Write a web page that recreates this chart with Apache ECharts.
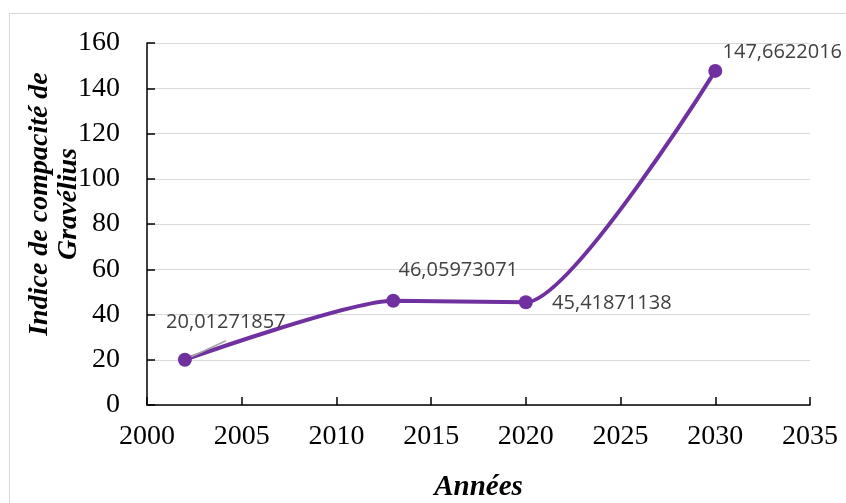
<!DOCTYPE html>
<html>
<head>
<meta charset="utf-8">
<script src="https://cdn.jsdelivr.net/npm/echarts@6/dist/echarts.min.js"></script>
<style>
  html, body { margin: 0; padding: 0; background: #fff; }
  #main { width: 846px; height: 503px; }
</style>
</head>
<body>
<div id="main"></div>
<script>
// données
const annees = [2002, 2013, 2020, 2030];
const indices = [20.01271857, 46.05973071, 45.41871138, 147.6622016];
const etiquettes = ['20,01271857', '46,05973071', '45,41871138', '147,6622016'];

// décalage des étiquettes (dx, dy) par point
const decalages = [[41, -37], [65, -30], [86, 1], [67, -19]];

const chart = echarts.init(document.getElementById('main'));

const serif = 'Liberation Serif, Times New Roman, serif';

chart.setOption({
  animation: false,
  graphic: [{
    type: 'rect',
    shape: { x: 9.5, y: 13.5, width: 900, height: 600 },
    style: { fill: 'none', stroke: '#d9d9d9', lineWidth: 1 },
    silent: true
  }, {
    type: 'text',
    x: 54, y: 204, rotation: Math.PI / 2,
    style: {
      text: 'Indice de compacité de\nGravélius',
      font: 'italic bold 28px ' + serif,
      fill: '#000', align: 'center', verticalAlign: 'middle', lineHeight: 29
    }
  }],
  grid: { left: 147, right: 36, top: 43, bottom: 98, outerBoundsMode: 'none' },
  xAxis: {
    type: 'value',
    min: 2000, max: 2035, interval: 5,
    name: 'Années', nameLocation: 'middle', nameGap: 68,
    nameTextStyle: { fontFamily: serif, fontSize: 29, fontStyle: 'italic', fontWeight: 'bold', color: '#000' },
    axisLine: { lineStyle: { color: '#000', width: 1.5 } },
    axisTick: { show: true, inside: true, length: 8, lineStyle: { color: '#000', width: 1.5 } },
    axisLabel: { fontFamily: serif, fontSize: 28, color: '#000', margin: 18, formatter: v => String(v) },
    splitLine: { show: false }
  },
  yAxis: {
    type: 'value',
    min: 0, max: 160, interval: 20,
    axisLine: { show: true, lineStyle: { color: '#000', width: 1.5 } },
    axisTick: { show: true, inside: true, length: 8, lineStyle: { color: '#000', width: 1.5 } },
    axisLabel: { fontFamily: serif, fontSize: 28, color: '#000', margin: 27 },
    splitLine: { lineStyle: { color: '#d9d9d9', width: 1.2 } }
  },
  series: [{
    type: 'line',
    data: annees.map((a, i) => i === 0 ? {
      value: [a, indices[i]],
      // boîte élargie pour que le trait de rappel parte du bas de l'étiquette
      label: { width: 240, lineHeight: 36, align: 'center', overflow: 'none' },
      labelLine: { show: true }
    } : {
      value: [a, indices[i]],
      labelLine: { show: false }
    }),
    smooth: 0.2,
    symbol: 'circle',
    symbolSize: 14,
    lineStyle: { color: '#7030a0', width: 4 },
    itemStyle: { color: '#7030a0' },
    label: {
      show: true,
      position: 'inside',
      formatter: p => etiquettes[p.dataIndex],
      fontFamily: 'Open Sans, Liberation Sans, sans-serif',
      fontSize: 20,
      color: '#404040'
    },
    labelLine: { show: true, z: 10, lineStyle: { color: '#a6a6a6', width: 1.5 } },
    labelLayout: p => ({ dx: decalages[p.dataIndex][0], dy: decalages[p.dataIndex][1] })
  }]
});
</script>
</body>
</html>
